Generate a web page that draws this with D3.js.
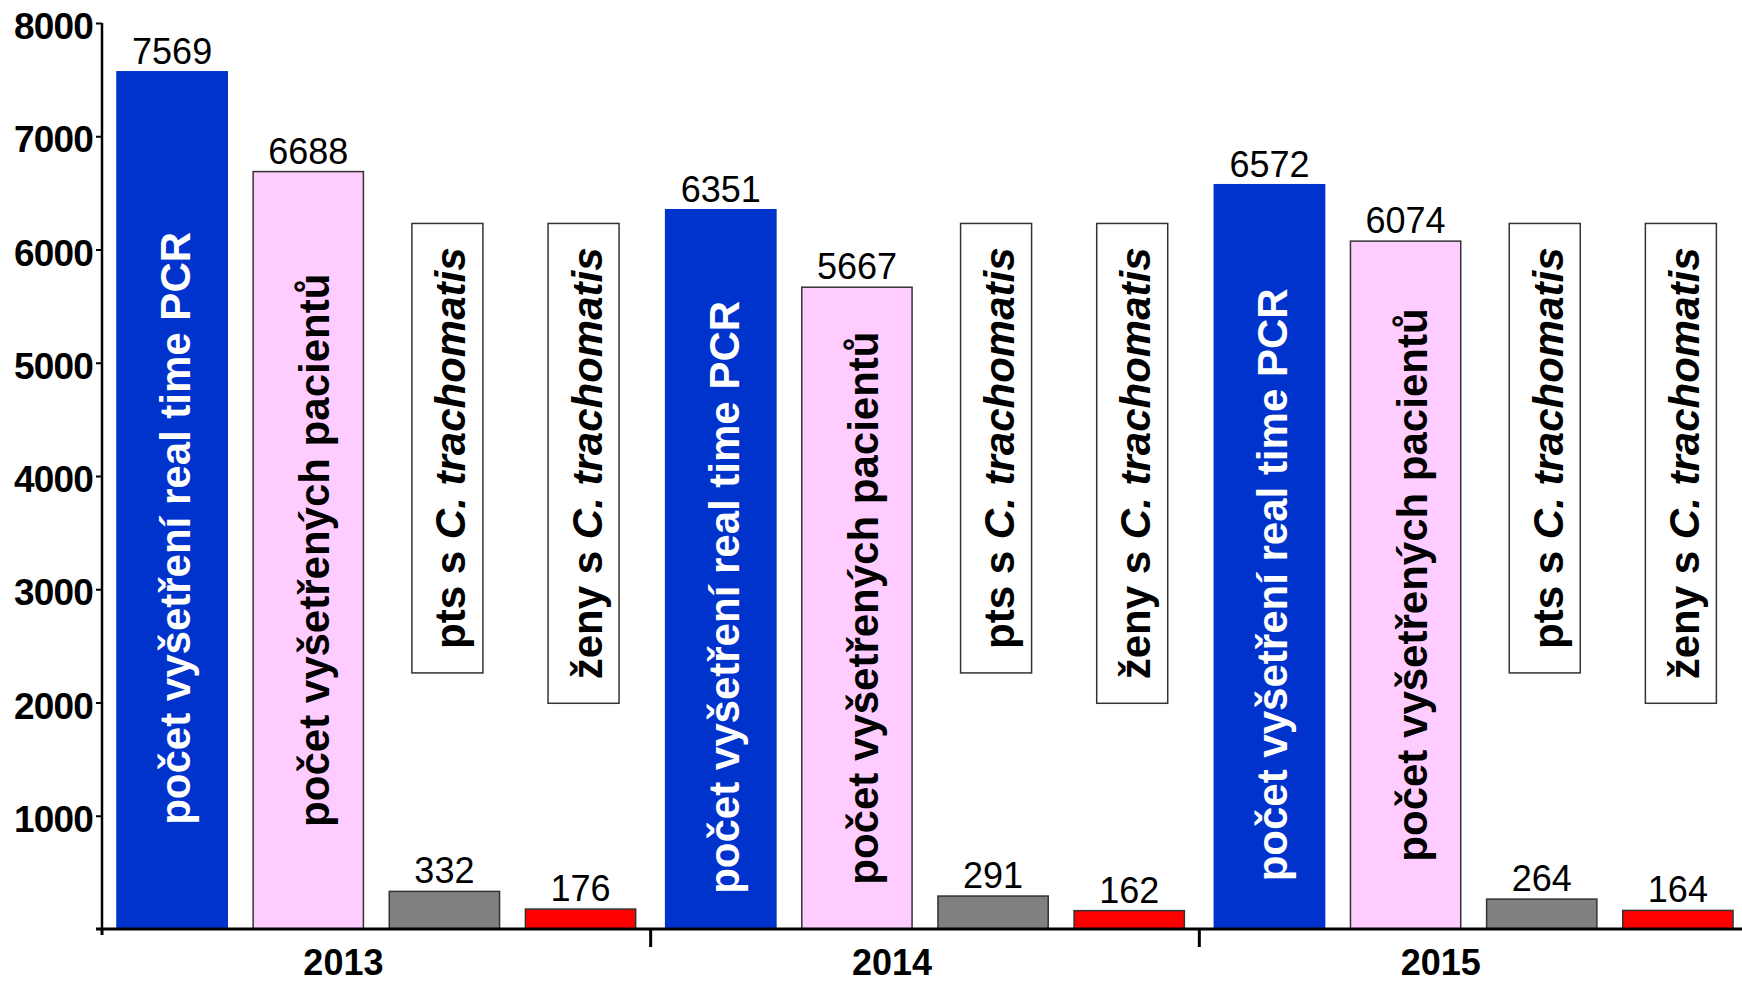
<!DOCTYPE html>
<html>
<head>
<meta charset="utf-8">
<script src="https://cdn.jsdelivr.net/npm/d3@7"></script>
<style>
  html, body { margin: 0; padding: 0; background: #fff; }
  svg { display: block; font-family: "Liberation Sans", Arial, sans-serif; }
</style>
</head>
<body>
<svg id="chart" width="1742" height="984"></svg>
<script>
// ---- data ----
const years = ["2013", "2014", "2015"];
const seriesKeys = ["pcr", "patients", "pts", "women"];
const pcrTests = [7569, 6351, 6572];
const patients = [6688, 5667, 6074];
const ptsPositive = [332, 291, 264];
const womenPositive = [176, 162, 164];
const yTicks = [1000, 2000, 3000, 4000, 5000, 6000, 7000, 8000];
const seriesLabels = {
  pcr: [{t: "počet vyšetření real time PCR", i: false}],
  patients: [{t: "počet vyšetřených pacientů", i: false}],
  pts: [{t: "pts s ", i: false}, {t: "C. trachomatis", i: true}],
  women: [{t: "ženy s ", i: false}, {t: "C. trachomatis", i: true}]
};
const seriesValues = { pcr: pcrTests, patients: patients, pts: ptsPositive, women: womenPositive };

// ---- styles ----
const fills = { pcr: "#0033cc", patients: "#ffccff", pts: "#808080", women: "#ff0000" };
const strokes = { pcr: "#0033cc", patients: "#333333", pts: "#333333", women: "#333333" };

const svg = d3.select("#chart");
svg.append("rect").attr("width", 1742).attr("height", 984).attr("fill", "#fff");

const y = d3.scaleLinear().domain([0, 8000]).range([929, 23]);
const x0 = d3.scaleBand().domain(years).range([102, 1748]).padding(0);
const x1 = d3.scaleBand().domain(seriesKeys).range([0, x0.bandwidth()])
  .paddingInner(0.19).paddingOuter(0.11);

const rows = [];
years.forEach((yr, i) => {
  seriesKeys.forEach(k => rows.push({ year: yr, key: k, value: seriesValues[k][i] }));
});

// bars
const g = svg.append("g");
g.selectAll("rect.bar").data(rows).join("rect")
  .attr("class", "bar")
  .attr("x", d => x0(d.year) + x1(d.key))
  .attr("width", x1.bandwidth())
  .attr("y", d => y(d.value))
  .attr("height", d => y(0) - y(d.value))
  .attr("fill", d => fills[d.key])
  .attr("stroke", d => strokes[d.key])
  .attr("stroke-width", 1.5);

// value labels
g.selectAll("text.val").data(rows).join("text")
  .attr("class", "val")
  .attr("x", d => x0(d.year) + x1(d.key) + x1.bandwidth() / 2)
  .attr("y", d => y(d.value) - 8)
  .attr("text-anchor", "middle")
  .attr("font-size", 36)
  .attr("fill", "#000")
  .text(d => d3.format("d")(d.value));

// inner rotated labels
const fontSize = 42;
function addLabel(sel, key) {
  seriesLabels[key].forEach(p => {
    sel.append("tspan").attr("font-style", p.i ? "italic" : "normal").text(p.t);
  });
}

rows.forEach(d => {
  const cx = x0(d.year) + x1(d.key) + x1.bandwidth() / 2;
  if (d.key === "pcr" || d.key === "patients") {
    const bx = cx + (d.key === "pcr" ? 18 : 21);
    const mid = (y(d.value) + y(0)) / 2 + (d.key === "pcr" ? 28 : 0);
    const t = g.append("text")
      .attr("transform", `translate(${bx},${mid}) rotate(-90)`)
      .attr("text-anchor", "middle")
      .attr("font-size", fontSize)
      .attr("font-weight", "bold")
      .attr("fill", d.key === "pcr" ? "#ffffff" : "#000000");
    addLabel(t, d.key);
  } else {
    const bx = cx + 21;
    const top = y(6230);
    const boxW = 71;
    const box = g.append("rect");
    const t = g.append("text")
      .attr("transform", `translate(${bx},${top + 24}) rotate(-90)`)
      .attr("text-anchor", "end")
      .attr("font-size", fontSize)
      .attr("font-weight", "bold")
      .attr("fill", "#000");
    addLabel(t, d.key);
    const L = t.node().getComputedTextLength();
    box.attr("x", cx - boxW / 2 + 3).attr("y", top)
      .attr("width", boxW).attr("height", L + 24 + 24)
      .attr("fill", "#fff").attr("stroke", "#333").attr("stroke-width", 1.5);
  }
});

// y axis
const yAxis = d3.axisLeft(y).tickValues(yTicks).tickFormat(d3.format("d"))
  .tickSize(6).tickPadding(3);
const ya = svg.append("g").attr("transform", "translate(102,0)").call(yAxis);
ya.select(".domain").attr("stroke", "#000").attr("stroke-width", 2.5)
  .attr("d", `M0,${y(8000)}V${y(0)}`);
ya.selectAll(".tick line").attr("stroke", "#000").attr("stroke-width", 2);
ya.selectAll(".tick text")
  .attr("font-family", "'Liberation Sans', Arial, sans-serif")
  .attr("font-size", 37).attr("font-weight", "bold").attr("fill", "#000")
  .attr("letter-spacing", -0.8)
  .attr("dy", "0.42em");

// x axis baseline
svg.append("line").attr("x1", 96).attr("x2", 1742)
  .attr("y1", y(0)).attr("y2", y(0))
  .attr("stroke", "#000").attr("stroke-width", 3);
// group separators
years.forEach((yr, i) => {
  const gx = x0(yr);
  svg.append("line").attr("x1", gx).attr("x2", gx)
    .attr("y1", y(0)).attr("y2", y(0) + (i === 0 ? 6 : 18))
    .attr("stroke", "#000").attr("stroke-width", 3);
});
// year labels
svg.selectAll("text.year").data(years).join("text")
  .attr("class", "year")
  .attr("x", d => x0(d) + x0.bandwidth() * 0.44)
  .attr("y", 975)
  .attr("text-anchor", "middle")
  .attr("font-size", 36)
  .attr("font-weight", "bold")
  .attr("fill", "#000")
  .text(d => d);
</script>
</body>
</html>
